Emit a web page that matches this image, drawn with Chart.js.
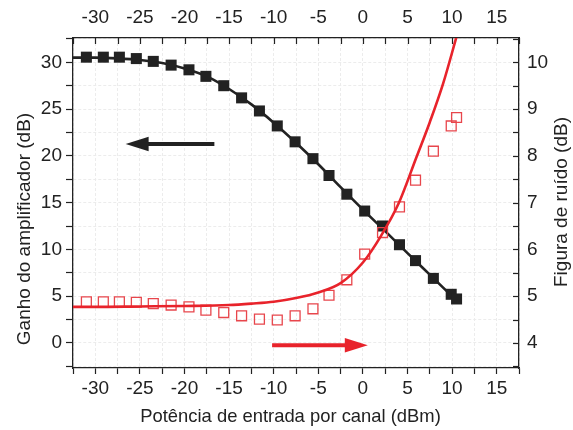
<!DOCTYPE html>
<html><head><meta charset="utf-8">
<script src="https://cdn.jsdelivr.net/npm/chart.js@4.4.1/dist/chart.umd.min.js"></script>
<style>html,body{margin:0;padding:0;background:#fff}</style>
</head><body>
<canvas id="c" width="573" height="430"></canvas>
<script>
// ---- data ----
const gainX = [-31.0, -29.1, -27.3, -25.4, -23.5, -21.5, -19.5, -17.6, -15.6, -13.6, -11.6, -9.6, -7.6, -5.6, -3.8, -1.8, 0.2, 2.2, 4.1, 5.9, 7.9, 9.9, 10.5];
const gainMeas = [30.55, 30.55, 30.55, 30.4, 30.1, 29.7, 29.2, 28.5, 27.5, 26.2, 24.8, 23.2, 21.5, 19.7, 17.9, 15.9, 14.1, 12.5, 10.5, 8.8, 6.9, 5.2, 4.7];
const nfMeas = [4.88, 4.88, 4.88, 4.87, 4.84, 4.81, 4.77, 4.70, 4.65, 4.58, 4.51, 4.49, 4.58, 4.73, 5.02, 5.35, 5.90, 6.36, 6.91, 7.48, 8.10, 8.64, 8.82];
const gainSimX = [-32.5, -30, -27.5, -25, -22.5, -20, -17.5, -15, -12.5, -10, -7.5, -5, -2.5, 0, 2.5, 5, 7.5, 10, 10.8];
const gainSimY = [30.5, 30.5, 30.42, 30.25, 29.92, 29.35, 28.5, 27.15, 25.5, 23.55, 21.4, 19.1, 16.65, 14.25, 11.95, 9.6, 7.3, 5.0, 4.35];
const nfSimX = [-32.5, -30, -25, -20, -15, -12.5, -10, -7.5, -5, -2.5, 0, 2, 4, 6, 7.5, 9, 10.5];
const nfSimY = [4.77, 4.77, 4.78, 4.79, 4.81, 4.84, 4.88, 4.96, 5.08, 5.28, 5.72, 6.28, 6.98, 7.97, 8.72, 9.55, 10.55];
const xTickValues = [-32.5, -30, -27.5, -25, -22.5, -20, -17.5, -15, -12.5, -10, -7.5, -5, -2.5, 0, 2.5, 5, 7.5, 10, 12.5, 15, 17.5];
const leftTickValues = [-2.5, 0, 2.5, 5, 7.5, 10, 12.5, 15, 17.5, 20, 22.5, 25, 27.5, 30, 32.5];
const rightTickValues = [3.5, 4, 4.5, 5, 5.5, 6, 6.5, 7, 7.5, 8, 8.5, 9, 9.5, 10, 10.5];
const gainArrowX = [-16.65, -26.6];
const gainArrowY = 21.26;
const nfArrowX = [-10.18, 0.55];
const nfArrowY = 3.95;
const xTitle = 'Potência de entrada por canal (dBm)';
const leftTitle = 'Ganho do amplificador (dB)';
const rightTitle = 'Figura de ruído (dB)';

const FONT = '"Liberation Sans", Arial, Helvetica, sans-serif';
const INK = '#222222';
const RED = '#e8232b';
const RED2 = '#e8464c';

const pts = (xs, ys) => xs.map((x, i) => ({x, y: ys[i]}));
const mult5 = v => Math.abs(v % 5) < 1e-6;
const fmt = v => String(Math.round(v));

const overlay = {
  id: 'overlay',
  afterDatasetsDraw(chart) {
    const {ctx, scales, chartArea} = chart;
    const x = scales.x, y = scales.y, y2 = scales.y2;
    ctx.save();
    // inward ticks on top and right axes
    ctx.strokeStyle = INK; ctx.lineWidth = 1.2;
    xTickValues.forEach(v => {
      const px = Math.round(x.getPixelForValue(v)) + 0.5;
      ctx.beginPath(); ctx.moveTo(px, chartArea.top); ctx.lineTo(px, chartArea.top + 6); ctx.stroke();
    });
    rightTickValues.forEach(v => {
      const py = Math.round(y2.getPixelForValue(v)) + 0.5;
      ctx.beginPath(); ctx.moveTo(chartArea.right - 6, py); ctx.lineTo(chartArea.right, py); ctx.stroke();
    });
    // arrows
    const arrow = (x0, x1, py, color) => {
      const p0 = x.getPixelForValue(x0), p1 = x.getPixelForValue(x1);
      const dir = Math.sign(p1 - p0);
      const headLen = 23, half = 7.3;
      ctx.strokeStyle = color; ctx.fillStyle = color; ctx.lineWidth = 4;
      ctx.beginPath(); ctx.moveTo(p0, py); ctx.lineTo(p1 - dir * headLen + dir * 2, py); ctx.stroke();
      ctx.beginPath();
      ctx.moveTo(p1, py);
      ctx.lineTo(p1 - dir * headLen, py - half);
      ctx.lineTo(p1 - dir * headLen, py + half);
      ctx.closePath(); ctx.fill();
    };
    arrow(gainArrowX[0], gainArrowX[1], y.getPixelForValue(gainArrowY), INK);
    arrow(nfArrowX[0], nfArrowX[1], y2.getPixelForValue(nfArrowY), RED);
    ctx.restore();
  },
  afterDraw(chart) {
    const {ctx} = chart;
    ctx.save();
    ctx.fillStyle = INK;
    ctx.font = '18.4px ' + FONT;
    ctx.textBaseline = 'alphabetic';
    ctx.textAlign = 'center';
    ctx.fillText(xTitle, 290.5, 422);
    ctx.font = '19px ' + FONT;
    ctx.translate(30, 229); ctx.rotate(-Math.PI / 2);
    ctx.fillText(leftTitle, 0, 0);
    ctx.restore();
    ctx.save();
    ctx.fillStyle = INK;
    ctx.font = '19px ' + FONT;
    ctx.textAlign = 'center';
    ctx.translate(567, 202); ctx.rotate(-Math.PI / 2);
    ctx.fillText(rightTitle, 0, 0);
    ctx.restore();
  }
};

const tickFont = {family: FONT, size: 19};
const gridCol = '#ececec';

new Chart(document.getElementById('c'), {
  type: 'scatter',
  data: {
    datasets: [
      { label: 'NF sim', data: pts(nfSimX, nfSimY), yAxisID: 'y2', showLine: true,
        borderColor: RED, borderWidth: 2.6, pointRadius: 0, cubicInterpolationMode: 'monotone', fill: false },
      { label: 'NF meas', data: pts(gainX, nfMeas), yAxisID: 'y2', showLine: false,
        pointStyle: 'rect', pointRadius: 7, borderColor: RED2, borderWidth: 1.3, backgroundColor: 'rgba(255,255,255,0)' },
      { label: 'Gain meas', data: pts(gainX, gainMeas), yAxisID: 'y', showLine: false,
        pointStyle: 'rect', pointRadius: 7.8, borderColor: INK, borderWidth: 0, backgroundColor: INK },
      { label: 'Gain sim', data: pts(gainSimX, gainSimY), yAxisID: 'y', showLine: true,
        borderColor: INK, borderWidth: 2.6, pointRadius: 0, cubicInterpolationMode: 'monotone', fill: false }
    ]
  },
  options: {
    responsive: false, animation: false,
    layout: {padding: 0},
    plugins: {legend: {display: false}, tooltip: {enabled: false}},
    scales: {
      x: {
        type: 'linear', position: 'bottom', min: -32.5, max: 17.5,
        afterFit(s) { s.height = 62; },
        afterBuildTicks(s) { s.ticks = xTickValues.map(v => ({value: v})); },
        ticks: {autoSkip: false, maxRotation: 0, padding: 3, color: INK, font: tickFont,
                callback: v => mult5(v) ? fmt(v) : ''},
        grid: {color: gridCol, lineWidth: 1, tickLength: 6, tickColor: INK, tickWidth: 1.2},
        border: {color: INK, width: 1.3, dash: [3, 2]}
      },
      x2: {
        type: 'linear', position: 'top', min: -32.5, max: 17.5,
        afterFit(s) { s.height = 38; },
        afterBuildTicks(s) { s.ticks = xTickValues.map(v => ({value: v})); },
        ticks: {autoSkip: false, maxRotation: 0, padding: 9, color: INK, font: tickFont,
                callback: v => mult5(v) ? fmt(v) : ''},
        grid: {drawOnChartArea: false, drawTicks: false},
        border: {color: INK, width: 1.3}
      },
      y: {
        type: 'linear', position: 'left', min: -2.68, max: 32.6,
        afterFit(s) { s.width = 73; },
        afterBuildTicks(s) { s.ticks = leftTickValues.map(v => ({value: v})); },
        ticks: {autoSkip: false, padding: 4, color: INK, font: tickFont,
                callback: v => mult5(v) ? fmt(v) : ''},
        grid: {color: gridCol, lineWidth: 1, tickLength: 7, tickColor: INK, tickWidth: 1.2},
        border: {color: INK, width: 1.3, dash: [3, 2]}
      },
      y2: {
        type: 'linear', position: 'right', min: 3.464, max: 10.52,
        afterFit(s) { s.width = 54; },
        afterBuildTicks(s) { s.ticks = rightTickValues.map(v => ({value: v})); },
        ticks: {autoSkip: false, padding: 8, color: INK, font: tickFont,
                callback: v => Math.abs(v - Math.round(v)) < 1e-6 ? fmt(v) : ''},
        grid: {drawOnChartArea: false, drawTicks: false},
        border: {color: INK, width: 1.3}
      }
    }
  },
  plugins: [overlay]
});
</script>
</body></html>
